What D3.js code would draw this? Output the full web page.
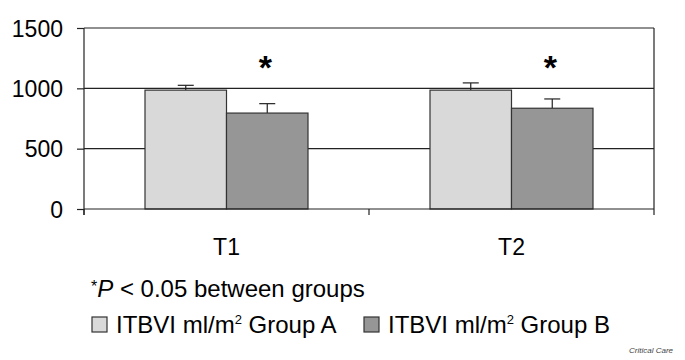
<!DOCTYPE html>
<html>
<head>
<meta charset="utf-8">
<script src="https://cdn.jsdelivr.net/npm/d3@7"></script>
<style>
  body { margin: 0; background: #fff; }
  svg { display: block; font-family: "Liberation Sans", Arial, sans-serif; }
</style>
</head>
<body>
<svg id="chart" width="685" height="360"></svg>
<script>
// values
var times = ["T1", "T2"];
var groupA = [985, 985];
var groupB = [795, 835];
var errA = [40, 60];
var errB = [78, 77];
var yTicks = [0, 500, 1000, 1500];
var legendLabels = ["Group A", "Group B"];
var colors = ["#d9d9d9", "#969696"];

var svg = d3.select("#chart");
var plotLeft = 84, plotRight = 654, plotTop = 28, plotBottom = 209;

var x = d3.scaleBand().domain(times).range([plotLeft, plotRight]).padding(0);
var y = d3.scaleLinear().domain([0, 1500]).range([plotBottom, plotTop]);
var barW = 81.5;

// grid lines
svg.append("g")
    .selectAll("line")
    .data(yTicks.filter(function(d) { return d > 0; }))
    .enter()
    .append("line")
    .attr("x1", plotLeft).attr("x2", plotRight)
    .attr("y1", function(d) { return y(d); })
    .attr("y2", function(d) { return y(d); })
    .style("stroke", "#222")
    .style("stroke-width", 1.2);

// right frame
svg.append("line")
    .attr("x1", plotRight).attr("x2", plotRight)
    .attr("y1", y(1500)).attr("y2", plotBottom)
    .style("stroke", "#222").style("stroke-width", 1.2);

// bars
var rows = times.map(function(t, i) {
    return [
        { t: t, k: 0, v: groupA[i], e: errA[i] },
        { t: t, k: 1, v: groupB[i], e: errB[i] }
    ];
});
var flat = [].concat.apply([], rows);

var barX = function(d) {
    var off = (x.bandwidth() - 2 * barW) / 2;
    return x(d.t) + off + d.k * barW;
};

// error bars (upper only)
var err = svg.append("g").selectAll("g").data(flat).enter().append("g");
err.append("line")
    .attr("x1", function(d) { return barX(d) + barW / 2; })
    .attr("x2", function(d) { return barX(d) + barW / 2; })
    .attr("y1", function(d) { return y(d.v); })
    .attr("y2", function(d) { return y(d.v + d.e); })
    .style("stroke", "#222").style("stroke-width", 1.2);
err.append("line")
    .attr("x1", function(d) { return barX(d) + barW / 2 - 8; })
    .attr("x2", function(d) { return barX(d) + barW / 2 + 8; })
    .attr("y1", function(d) { return y(d.v + d.e); })
    .attr("y2", function(d) { return y(d.v + d.e); })
    .style("stroke", "#222").style("stroke-width", 1.2);

svg.append("g")
    .selectAll("rect")
    .data(flat)
    .enter()
    .append("rect")
    .attr("x", barX)
    .attr("y", function(d) { return y(d.v); })
    .attr("width", barW)
    .attr("height", function(d) { return plotBottom - y(d.v); })
    .style("fill", function(d) { return colors[d.k]; })
    .style("stroke", "#333")
    .style("stroke-width", 1.2);

// significance stars above group B
svg.append("g")
    .selectAll("text")
    .data(flat.filter(function(d) { return d.k === 1; }))
    .enter()
    .append("text")
    .attr("x", function(d) { return barX(d) + barW / 2 - 2; })
    .attr("y", 79)
    .attr("text-anchor", "middle")
    .style("font-size", "34px")
    .style("font-weight", "bold")
    .text("*");

// y axis
var yAxis = svg.append("g")
    .attr("transform", "translate(" + plotLeft + ",0)")
    .call(d3.axisLeft(y).tickValues(yTicks).tickSize(7).tickPadding(14).tickFormat(d3.format("d")));
yAxis.selectAll("text").style("font-size", "23px").style("fill", "#000").attr("dy", "0.36em");
yAxis.selectAll("line, path").style("stroke", "#222").style("stroke-width", 1.2);
yAxis.select("path").attr("d", "M0," + (plotBottom + 6) + "V" + plotTop);

// x axis
var xAxis = svg.append("g")
    .attr("transform", "translate(0," + plotBottom + ")")
    .call(d3.axisBottom(x).tickSize(0).tickPadding(0));
xAxis.select("path").attr("d", "M" + plotLeft + ",0H" + plotRight).style("stroke", "#222").style("stroke-width", 1.2);
xAxis.selectAll("text").attr("y", 46).attr("dy", 0).style("font-size", "23px").style("fill", "#000");
svg.append("g")
    .selectAll("line")
    .data([plotLeft, plotLeft + x.bandwidth(), plotRight])
    .enter()
    .append("line")
    .attr("x1", function(d) { return d; }).attr("x2", function(d) { return d; })
    .attr("y1", plotBottom).attr("y2", plotBottom + 6)
    .style("stroke", "#222").style("stroke-width", 1.2);

// footnote
var note = svg.append("text").attr("x", 91).attr("y", 297).style("font-size", "24px");
note.append("tspan").style("font-size", "16px").attr("dy", "-5").text("*");
note.append("tspan").attr("dy", "5").style("font-style", "italic").text("P");
note.append("tspan").text(" < 0.05 between groups");

// legend
var legX = [92, 364];
var leg = svg.append("g").selectAll("g").data(legendLabels).enter().append("g")
    .attr("transform", function(d, i) { return "translate(" + legX[i] + ",317)"; });
leg.append("rect")
    .attr("width", 15).attr("height", 15)
    .style("fill", function(d, i) { return colors[i]; })
    .style("stroke", "#333").style("stroke-width", 1.2);
var lt = leg.append("text").attr("x", 24).attr("y", 15.5).style("font-size", "24px");
lt.append("tspan").text("ITBVI ml/m");
lt.append("tspan").attr("dy", -9).style("font-size", "13px").text("2");
lt.append("tspan").attr("dy", 9).text(function(d) { return " " + d; });

svg.append("text")
    .attr("x", 673).attr("y", 353)
    .attr("text-anchor", "end")
    .style("font-size", "8px")
    .style("font-style", "italic")
    .style("fill", "#444")
    .text("Critical Care");
</script>
</body>
</html>
